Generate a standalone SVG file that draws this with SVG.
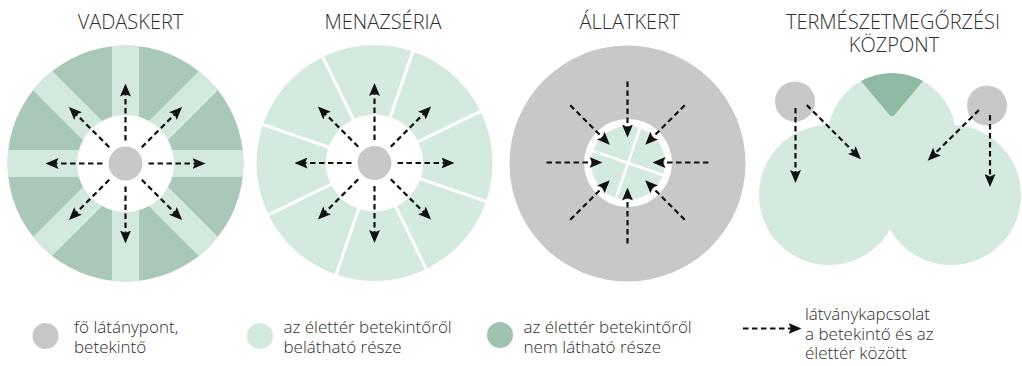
<svg xmlns="http://www.w3.org/2000/svg" width="1022" height="366" viewBox="0 0 1022 366">
<style>
.t{font-family:"Open Sans","Liberation Sans",sans-serif;fill:#2e2e2e;font-weight:300}
.title{font-size:20px;text-anchor:middle}
.leg{font-size:17px}
.arr{stroke:#111;stroke-width:2.2;stroke-dasharray:5.5 3.5;fill:none}
.gray{fill:#c8c8c8}
.lg{fill:#d5eadf}
.dg{fill:#a9c8b8}
</style>
<defs>
<marker id="ah" viewBox="0 0 13 11" refX="4" refY="5.5" markerWidth="13" markerHeight="11" markerUnits="userSpaceOnUse" orient="auto">
<path d="M0,0 L13,5.5 L0,11 L2.5,5.5 Z" fill="#111"/>
</marker>
<clipPath id="c1"><circle cx="125.5" cy="163.5" r="118"/></clipPath>
<clipPath id="c4"><circle cx="892" cy="137" r="64"/></clipPath>
</defs>
<rect width="1022" height="366" fill="#fff"/>

<g id="titles">
<text class="t title" x="130.5" y="29">VADASKERT</text>
<text class="t title" x="383" y="29">MENAZSÉRIA</text>
<text class="t title" x="629.5" y="29">ÁLLATKERT</text>
<text class="t title" y="29"><tspan x="893">TERMÉSZETMEGŐRZÉSI</tspan><tspan x="894" dy="23">KÖZPONT</tspan></text>
</g>

<g id="vadaskert">
<circle cx="125.5" cy="163.5" r="118" class="dg"/>
<g clip-path="url(#c1)" fill="#d4e9de">
<rect x="112" y="43.5" width="27" height="240"/>
<rect x="112" y="43.5" width="27" height="240" transform="rotate(45 125.5 163.5)"/>
<rect x="112" y="43.5" width="27" height="240" transform="rotate(90 125.5 163.5)"/>
<rect x="112" y="43.5" width="27" height="240" transform="rotate(135 125.5 163.5)"/>
</g>
<circle cx="125.5" cy="163.5" r="48.5" fill="#fff"/>
<circle cx="125.5" cy="163.5" r="17" class="gray"/>
</g>

<g id="menazseria">
<circle cx="374.5" cy="163" r="118" class="lg"/>
<g stroke="#fff" stroke-width="3">
<line x1="374.5" y1="163" x2="494.5" y2="163" transform="rotate(19 374.5 163)"/>
<line x1="374.5" y1="163" x2="494.5" y2="163" transform="rotate(64 374.5 163)"/>
<line x1="374.5" y1="163" x2="494.5" y2="163" transform="rotate(109 374.5 163)"/>
<line x1="374.5" y1="163" x2="494.5" y2="163" transform="rotate(154 374.5 163)"/>
<line x1="374.5" y1="163" x2="494.5" y2="163" transform="rotate(199 374.5 163)"/>
<line x1="374.5" y1="163" x2="494.5" y2="163" transform="rotate(244 374.5 163)"/>
<line x1="374.5" y1="163" x2="494.5" y2="163" transform="rotate(289 374.5 163)"/>
<line x1="374.5" y1="163" x2="494.5" y2="163" transform="rotate(334 374.5 163)"/>
</g>
<circle cx="374.5" cy="163" r="48.5" fill="#fff"/>
<circle cx="374.5" cy="163" r="17" class="gray"/>
</g>

<g id="allatkert">
<circle cx="627.5" cy="163.5" r="118" class="gray"/>
<circle cx="628" cy="163" r="44" fill="#fff"/>
<circle cx="628" cy="163" r="37" class="lg"/>
<g stroke="#fff" stroke-width="2.5">
<line x1="591" y1="163" x2="665" y2="163" transform="rotate(19 628 163)"/>
<line x1="591" y1="163" x2="665" y2="163" transform="rotate(109 628 163)"/>
</g>
</g>

<g id="kozpont">
<g class="lg">
<circle cx="829" cy="195" r="70"/>
<circle cx="951" cy="195" r="70"/>
<circle cx="892" cy="137" r="64"/>
</g>
<path d="M923,81 L895,114.5 Q892,118 889,114.5 L861,81 A64,64 0 0 1 923,81 Z" fill="#8fbba4" clip-path="url(#c4)"/>
<circle cx="795" cy="101.5" r="23.5" fill="#fff"/>
<circle cx="987" cy="105.5" r="23.5" fill="#fff"/>
<circle cx="795" cy="101.5" r="20" class="gray"/>
<circle cx="987" cy="105.5" r="20" class="gray"/>
</g>

<g id="connectors">
<g id="arrows-vadaskert">
<line class="arr" marker-end="url(#ah)" x1="148.5" y1="163.5" x2="196.5" y2="163.5"/>
<line class="arr" marker-end="url(#ah)" x1="148.5" y1="163.5" x2="196.5" y2="163.5" transform="rotate(45 125.5 163.5)"/>
<line class="arr" marker-end="url(#ah)" x1="148.5" y1="163.5" x2="196.5" y2="163.5" transform="rotate(90 125.5 163.5)"/>
<line class="arr" marker-end="url(#ah)" x1="148.5" y1="163.5" x2="196.5" y2="163.5" transform="rotate(135 125.5 163.5)"/>
<line class="arr" marker-end="url(#ah)" x1="148.5" y1="163.5" x2="196.5" y2="163.5" transform="rotate(180 125.5 163.5)"/>
<line class="arr" marker-end="url(#ah)" x1="148.5" y1="163.5" x2="196.5" y2="163.5" transform="rotate(225 125.5 163.5)"/>
<line class="arr" marker-end="url(#ah)" x1="148.5" y1="163.5" x2="196.5" y2="163.5" transform="rotate(270 125.5 163.5)"/>
<line class="arr" marker-end="url(#ah)" x1="148.5" y1="163.5" x2="196.5" y2="163.5" transform="rotate(315 125.5 163.5)"/>
</g>
<g id="arrows-menazseria">
<line class="arr" marker-end="url(#ah)" x1="397.5" y1="163" x2="445.5" y2="163"/>
<line class="arr" marker-end="url(#ah)" x1="397.5" y1="163" x2="445.5" y2="163" transform="rotate(45 374.5 163)"/>
<line class="arr" marker-end="url(#ah)" x1="397.5" y1="163" x2="445.5" y2="163" transform="rotate(90 374.5 163)"/>
<line class="arr" marker-end="url(#ah)" x1="397.5" y1="163" x2="445.5" y2="163" transform="rotate(135 374.5 163)"/>
<line class="arr" marker-end="url(#ah)" x1="397.5" y1="163" x2="445.5" y2="163" transform="rotate(180 374.5 163)"/>
<line class="arr" marker-end="url(#ah)" x1="397.5" y1="163" x2="445.5" y2="163" transform="rotate(225 374.5 163)"/>
<line class="arr" marker-end="url(#ah)" x1="397.5" y1="163" x2="445.5" y2="163" transform="rotate(270 374.5 163)"/>
<line class="arr" marker-end="url(#ah)" x1="397.5" y1="163" x2="445.5" y2="163" transform="rotate(315 374.5 163)"/>
</g>
<g id="arrows-allatkert">
<line class="arr" marker-end="url(#ah)" x1="546.5" y1="162.5" x2="593.5" y2="162.5"/>
<line class="arr" marker-end="url(#ah)" x1="546.5" y1="162.5" x2="593.5" y2="162.5" transform="rotate(45 627.5 162.5)"/>
<line class="arr" marker-end="url(#ah)" x1="546.5" y1="162.5" x2="593.5" y2="162.5" transform="rotate(90 627.5 162.5)"/>
<line class="arr" marker-end="url(#ah)" x1="546.5" y1="162.5" x2="593.5" y2="162.5" transform="rotate(135 627.5 162.5)"/>
<line class="arr" marker-end="url(#ah)" x1="546.5" y1="162.5" x2="593.5" y2="162.5" transform="rotate(180 627.5 162.5)"/>
<line class="arr" marker-end="url(#ah)" x1="546.5" y1="162.5" x2="593.5" y2="162.5" transform="rotate(225 627.5 162.5)"/>
<line class="arr" marker-end="url(#ah)" x1="546.5" y1="162.5" x2="593.5" y2="162.5" transform="rotate(270 627.5 162.5)"/>
<line class="arr" marker-end="url(#ah)" x1="546.5" y1="162.5" x2="593.5" y2="162.5" transform="rotate(315 627.5 162.5)"/>
</g>
<g id="arrows-kozpont">
<line class="arr" marker-end="url(#ah)" x1="795.5" y1="108" x2="795.5" y2="174"/>
<line class="arr" marker-end="url(#ah)" x1="806.7" y1="105" x2="854.6" y2="152.9"/>
<line class="arr" marker-end="url(#ah)" x1="979" y1="110" x2="934.1" y2="154.4"/>
<line class="arr" marker-end="url(#ah)" x1="990" y1="115" x2="990" y2="178"/>
</g>
</g>

<g id="legend">
<g id="leg-viewpoint">
<circle cx="45.5" cy="336" r="13" class="gray"/>
<text class="t leg" y="333"><tspan x="74">fő látánypont,</tspan><tspan x="74" dy="20">betekintő</tspan></text>
</g>
<g id="leg-visible">
<circle cx="260" cy="336" r="13" class="lg"/>
<text class="t leg" y="333"><tspan x="283.5">az élettér betekintőről</tspan><tspan x="283.5" dy="20">belátható része</tspan></text>
</g>
<g id="leg-hidden">
<circle cx="500" cy="335" r="13" fill="#a0c3b1"/>
<text class="t leg" y="333"><tspan x="523.5">az élettér betekintőről</tspan><tspan x="523.5" dy="20">nem látható része</tspan></text>
</g>
<g id="leg-arrow">
<line class="arr" marker-end="url(#ah)" x1="743" y1="328.5" x2="792.5" y2="328.5"/>
<text class="t leg" y="320"><tspan x="805">látványkapcsolat</tspan><tspan x="805" dy="19.5">a betekintő és az</tspan><tspan x="805" dy="19.5">élettér között</tspan></text>
</g>
</g>
</svg>
